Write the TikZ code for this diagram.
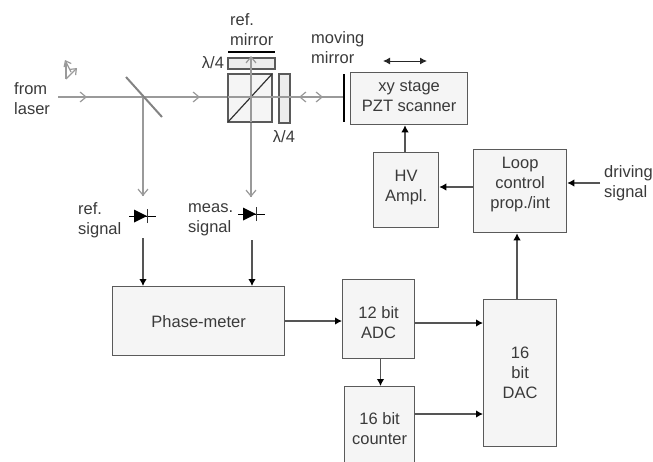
\documentclass[tikz,border=0pt]{standalone}
\usepackage{fontspec}
\setmainfont{Liberation Sans}
\usetikzlibrary{arrows.meta}
\definecolor{boxedge}{HTML}{5A5A5A}
\definecolor{boxfill}{HTML}{F5F5F5}
\definecolor{beam}{HTML}{9A9A9A}
\definecolor{txt}{HTML}{3A3A3A}
\definecolor{sig}{HTML}{555555}
\tikzset{
  x=1pt,y=-1pt,
  every node/.style={font=\fontsize{16.5}{20}\selectfont,text=txt},
  blockbox/.style={draw=boxedge,fill=boxfill,line width=1.3pt,inner sep=0pt,anchor=north west},
  blocktext/.style={align=center,inner sep=0pt},
  optic/.style={draw=boxedge,fill=boxfill,line width=1.2pt},
  plate/.style={draw=boxedge,fill=black!7,line width=1.2pt},
  lab/.style={align=left,inner sep=0pt},
  sigarrow/.style={draw=sig,line width=1.2pt,-{Latex[length=7pt,width=7.5pt,black]}},
  beamline/.style={draw=beam,line width=1.2pt},
  beamarrow/.style={beamline,-{Straight Barb[length=6pt,width=10pt]}},
}
\begin{document}
\begin{tikzpicture}
\useasboundingbox (0,0) rectangle (653,461);
\clip (0,0) rectangle (653,461);
% optical coordinates
\coordinate (src) at (58,97);
\coordinate (bsp) at (143,97);
\coordinate (mm) at (344,97);
\coordinate (refT) at (252,57);
\coordinate (c1) at (143,196);
\coordinate (c2) at (251,197);
% blocks
\node[blockbox,minimum width=117pt,minimum height=52pt] (xy) at (350,72) {};
\node[blockbox,minimum width=65pt,minimum height=75pt] (hv) at (373,152) {};
\node[blockbox,minimum width=93pt,minimum height=83pt] (loop) at (473,149) {};
\node[blockbox,minimum width=172pt,minimum height=69pt] (pm) at (112,286) {};
\node[blockbox,minimum width=72pt,minimum height=79pt] (adc) at (342,279) {};
\node[blockbox,minimum width=70pt,minimum height=84pt] (cnt) at (344,386) {};
\node[blockbox,minimum width=73pt,minimum height=147pt] (dac) at (483,299) {};
\node[blocktext,yshift=2pt] (xyt) at (xy.center) {xy stage\\PZT scanner};
\node[blocktext,yshift=3pt] (hvt) at (hv.center) {HV\\Ampl.};
\node[blocktext,yshift=7pt] (loopt) at (loop.center) {Loop\\control\\prop./int};
\node[blocktext] (pmt) at (pm.center) {Phase-meter};
\node[blocktext,yshift=-3pt] (adct) at (adc.center) {12 bit\\ADC};
\node[blocktext] (cntt) at (cnt.center) {16 bit\\counter};
\node[blocktext] (dact) at (dac.center) {16\\bit\\DAC};
% beams
\draw[beamline] (src) -- (228,97);
\draw[beamline] (bsp) -- (c1);
\draw[beamline] (251,122) -- (c2);
% optics
\draw[optic] (228,74) rectangle (272,122);
\draw[black!80,line width=1.2pt] (228,122) -- (272,74);
\draw[plate] (228,58) rectangle (275,69);
\draw[plate] (279,74) rectangle (290,123);
\draw[beam,line width=1.1pt] (251,122) -- (251,58);
\draw[beam,line width=1.1pt] (228,97) -- (344,97);
\draw[black,line width=2.6pt] (228,52) -- (275,52);
\draw[black,line width=2.6pt] (344,74) -- (344,122);
\draw[draw=beam!85!black,line width=2pt] (126,77) -- (162,117);
% beam arrowheads
\draw[beamarrow] (70,97) -- (87,97);
\draw[beamarrow] (180,97) -- (200,97);
\draw[beamarrow] (251,70) -- (251,56);
\draw[beamline,{Straight Barb[length=6pt,width=10pt]}-{Straight Barb[length=6pt,width=10pt]}] (299,97) -- (323,97);
\draw[beamarrow] (143,180) -- (c1);
\draw[beamarrow] (251,180) -- (c2);
% polarisation mark
\draw[beamline,-{Straight Barb[length=5pt,width=8pt]}] (71,72) -- (65,60);
\draw[beamline] (66,63) -- (66,79);
\draw[beamline,-{Straight Barb[length=5pt,width=8pt]}] (66,79) -- (77,68);
% diodes
\node[coordinate] (d1) at (143,216) {};
\node[coordinate] (d2) at (252,214) {};
\foreach \d in {d1,d2}{
  \draw[black,line width=1pt] ([xshift=-14pt]\d) -- ([xshift=13pt]\d);
  \fill[black] ([xshift=-9pt,yshift=-6.5pt]\d) -- ([xshift=4pt]\d) -- ([xshift=-9pt,yshift=6.5pt]\d) -- cycle;
  \draw[black!80,line width=1pt] ([xshift=4pt,yshift=-7pt]\d) -- ([xshift=4pt,yshift=7pt]\d);
}
% signal connectors
\coordinate (d1o) at (143,238);
\coordinate (d2o) at (252,240);
\coordinate (drv) at (600,183);
\draw[sigarrow] (d1o) -- (d1o |- pm.north);
\draw[sigarrow] (d2o) -- (d2o |- pm.north);
\draw[sigarrow] (pm.east |- 0,321) -- (adc.west |- 0,321);
\draw[sigarrow] (adc.east |- 0,323) -- (dac.west |- 0,323);
\draw[sigarrow] (cnt.east |- 0,414) -- (dac.west |- 0,414);
\draw[sigarrow] (adc.south -| 380.5,0) -- (cnt.north -| 380.5,0);
\draw[sigarrow] (dac.north -| 517,0) -- (loop.south -| 517,0);
\draw[sigarrow] (loop.west |- 0,187) -- (hv.east |- 0,187);
\draw[sigarrow] (hv.north -| 405,0) -- (xy.south -| 405,0);
\draw[sigarrow] (drv) -- (loop.east |- drv);
\coordinate (sa) at (383,61);
\coordinate (sb) at (427,61);
\draw[black!85,line width=1pt,{Latex[length=7pt,width=7pt]}-{Latex[length=7pt,width=7pt]}] (sa) -- (sb);
% labels
\node[lab,anchor=west] (t1) at (14,99) {from\\laser};
\node[lab,anchor=west] (t2) at (230,30) {ref.\\mirror};
\node[lab,anchor=west] (t3) at (311,48) {moving\\mirror};
\node[lab,anchor=center] (t4) at (213,63) {λ/4};
\node[lab,anchor=center] (t5) at (284,137) {λ/4};
\node[lab,anchor=west] (t6) at (78,220) {ref.\\signal};
\node[lab,anchor=west] (t7) at (188,220) {meas.\\signal};
\node[lab,anchor=west] (t8) at (604,183) {driving\\signal};
\end{tikzpicture}
\end{document}
